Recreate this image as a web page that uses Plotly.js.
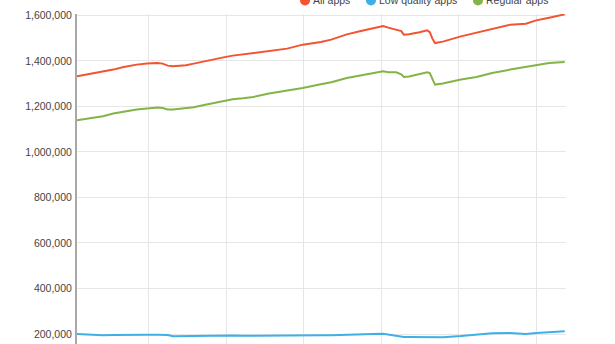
<!DOCTYPE html>
<html>
<head>
<meta charset="utf-8">
<script src="https://cdn.plot.ly/plotly-3.0.1.min.js"></script>
<style>
html,body{margin:0;padding:0;overflow:hidden;background:#fff;}
#chart{width:615px;height:344px;}
</style>
</head>
<body>
<div id="chart"></div>
<script>
// Day index since start of series
const days = [0,6,10,14,18,23,27,31,33,35,37,42,45,49,52,56,60,64,68,74,81,87,94,98,104,109,114,118,120,123,125,126,128,132,135,136,137,138,141,148,154,160,167,173,177,182,188];

const allApps = [1332300,1344100,1351100,1361700,1373100,1383600,1388000,1390600,1388000,1379200,1376200,1380500,1388000,1398100,1406900,1414300,1423100,1428800,1436300,1446400,1453800,1471400,1482800,1493300,1516600,1529800,1541600,1553000,1546000,1537200,1531100,1515300,1516600,1525400,1534200,1526700,1497700,1478400,1484600,1507800,1524100,1541600,1559200,1563600,1578100,1589900,1604400];

const lowQualityApps = [199900,195500,194200,195500,196900,196900,196900,196400,195500,195500,189800,191100,192000,192400,193300,194200,193300,192400,192400,191100,191100,194200,194200,194600,197700,199000,199900,201200,197700,193300,188900,186700,186700,186700,185400,184500,183600,184500,185800,191100,198100,203400,204300,199900,204300,207800,211800];

const regularApps = [1139200,1151000,1156700,1168600,1177300,1186100,1190500,1194900,1193100,1186100,1186100,1190500,1196200,1206300,1213800,1223900,1231300,1235700,1241400,1256300,1267800,1280900,1297200,1305900,1324800,1335300,1346800,1354200,1349800,1349800,1341000,1329200,1331400,1341000,1349800,1346800,1322200,1295800,1300200,1317800,1329200,1346800,1361700,1373100,1380500,1390600,1395000];

const yTicks = [200000,400000,600000,800000,1000000,1200000,1400000,1600000];

const seriesNames = ["All apps", "Low quality apps", "Regular apps"];
const seriesColors = ["#f4532f", "#3fb0e6", "#82b446"];
const seriesValues = [allApps, lowQualityApps, regularApps];

// legend layout (paper coordinates)
const legendDotX = [0.4663, 0.6012, 0.8200];
const legendTextX = [0.4785, 0.6135, 0.8323];
const legendY = 1.0412;

const traces = seriesValues.map((vals, i) => ({
  x: days, y: vals, type: "scatter", mode: "lines", name: seriesNames[i],
  line: {color: seriesColors[i], width: 2, shape: "linear"},
  showlegend: false, hoverinfo: "skip"
}));

const shapes = seriesNames.map((n, i) => ({
  type: "circle", xref: "paper", yref: "paper",
  xsizemode: "pixel", ysizemode: "pixel",
  xanchor: legendDotX[i], yanchor: legendY,
  x0: -5, x1: 5, y0: -5, y1: 5,
  fillcolor: seriesColors[i], line: {width: 0}
}));

const annotations = seriesNames.map((n, i) => ({
  text: n, xref: "paper", yref: "paper",
  x: legendTextX[i], y: legendY + 0.0015, xanchor: "left", yanchor: "middle",
  showarrow: false,
  font: {family: "Liberation Sans, Arial, sans-serif", size: 10.5, color: "#444"}
}));

const layout = {
  width: 615, height: 344,
  margin: {l: 77, r: 49, t: 13.6, b: 0, pad: 0, autoexpand: false},
  paper_bgcolor: "#fff", plot_bgcolor: "#fff",
  font: {family: "Liberation Sans, Arial, sans-serif", size: 10.5, color: "#444"},
  showlegend: false,
  shapes: shapes,
  annotations: annotations,
  xaxis: {
    range: [0, 188.5], showticklabels: false, ticks: "",
    tick0: 27.6, dtick: 29.9, showgrid: true, gridcolor: "#e6e6e6", gridwidth: 1,
    zeroline: false, showline: false
  },
  yaxis: {
    range: [156100, 1606000], tickvals: yTicks,
    tickformat: ",d", showgrid: true, gridcolor: "#e6e6e6", gridwidth: 1,
    zeroline: false, showline: true, linecolor: "#a8a8a8", linewidth: 2,
    ticks: "", ticklabelstandoff: 1,
    tickfont: {family: "Liberation Sans, Arial, sans-serif", size: 10.5, color: "#444"}
  }
};

Plotly.newPlot("chart", traces, layout, {staticPlot: true, displayModeBar: false});
</script>
</body>
</html>
